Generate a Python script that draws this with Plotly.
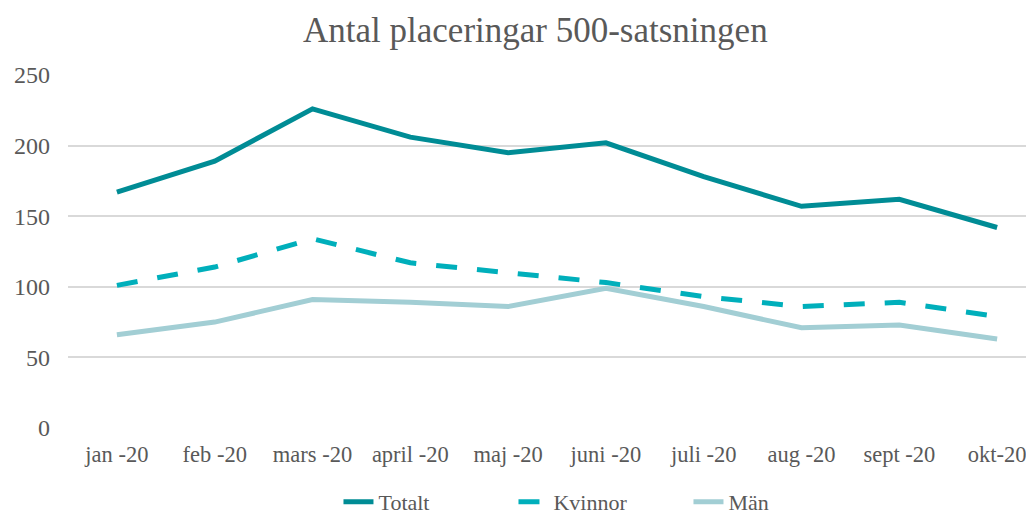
import plotly.graph_objects as go

months = ["jan -20", "feb -20", "mars -20", "april -20", "maj -20",
          "juni -20", "juli -20", "aug -20", "sept -20", "okt-20"]
totalt = [167, 189, 226, 206, 195, 202, 178, 157, 162, 142]
kvinnor = [101, 114, 134, 117, 110, 103, 93, 86, 89, 79]
man = [66, 75, 91, 89, 86, 99, 86, 71, 73, 63]

x = list(range(len(months)))
fnt = "Liberation Serif, Times New Roman, serif"
grey = "#595959"

fig = go.Figure()
fig.add_trace(go.Scatter(x=x, y=totalt, name="Totalt", mode="lines",
                         line=dict(color="#008C95", width=5)))
fig.add_trace(go.Scatter(x=x, y=kvinnor, name="Kvinnor", mode="lines",
                         line=dict(color="#00AFBB", width=5, dash="21px,20px")))
fig.add_trace(go.Scatter(x=x, y=man, name="Män", mode="lines",
                         line=dict(color="#A2CED4", width=5)))

# page body has an 8px margin, so the figure is sized/shifted to fit the window
fig.update_layout(
    width=1026, height=506,
    margin=dict(l=60, r=0, t=67, b=86),
    paper_bgcolor="white", plot_bgcolor="white",
    title=dict(text="Antal placeringar 500-satsningen", x=0.514, xanchor="center",
               y=0.958, yanchor="middle",
               font=dict(family=fnt, size=35, color=grey)),
    xaxis=dict(tickmode="array", tickvals=x, ticktext=months,
               range=[-0.5, 9.377], showgrid=False, zeroline=False,
               showline=False, ticks="", automargin=False, ticklabelstandoff=10,
               tickfont=dict(family=fnt, size=22.5, color=grey)),
    yaxis=dict(range=[0, 250], tickvals=[0, 50, 100, 150, 200, 250],
               showgrid=True, gridcolor="#D9D9D9", gridwidth=1.5,
               zeroline=False, showline=False, ticks="", ticklabelstandoff=17,
               automargin=False,
               tickfont=dict(family=fnt, size=24, color=grey)),
    legend=dict(orientation="h", x=0.28, xanchor="left", yref="container",
                y=0.024, yanchor="middle", entrywidth=130, entrywidthmode="pixels",
                font=dict(family=fnt, size=22, color=grey),
                traceorder="normal"),
    showlegend=True,
)

fig.write_html("out.html")
